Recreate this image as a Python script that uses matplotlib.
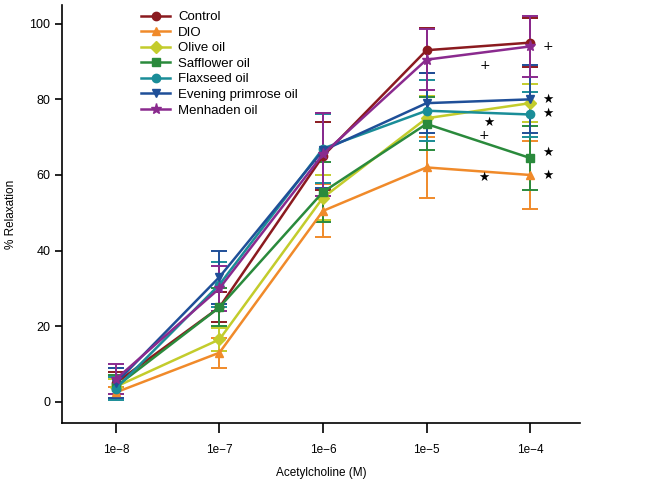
import matplotlib.pyplot as plt
from matplotlib.lines import Line2D

plt.rcParams['font.family'] = ['Liberation Sans', 'DejaVu Sans']

conc = [1e-8, 1e-7, 1e-6, 1e-5, 1e-4]
tick_labels = ["1e\u22128", "1e\u22127", "1e\u22126", "1e\u22125", "1e\u22124"]

names = ["Control", "DIO", "Olive oil", "Safflower oil", "Flaxseed oil",
         "Evening primrose oil", "Menhaden oil"]
colors = ["#8b1a1f", "#f08a2a", "#c3cc2c", "#2a8a3c", "#1a8d98", "#1f4f98", "#8a2a8e"]
markers = ["o", "^", "D", "s", "o", "v", "*"]

control = [5, 25, 65, 93, 95]
dio = [2.5, 13, 50.5, 62, 60]
olive = [4, 16.5, 54, 75, 79]
safflower = [4, 25, 55.5, 73.5, 64.5]
flaxseed = [3.5, 31, 67, 77, 76]
primrose = [5, 33, 66.5, 79, 80]
menhaden = [6, 30, 65.5, 90.5, 94]

control_err = [3, 4, 9, 6, 6.5]
dio_err = [1.5, 4, 7, 8, 9]
olive_err = [2, 3, 6, 6, 5]
safflower_err = [3, 5, 8, 7, 8.5]
flaxseed_err = [3, 6, 9, 8, 6]
primrose_err = [4, 7, 10, 8, 9]
menhaden_err = [4, 6, 11, 8, 8]

series = [control, dio, olive, safflower, flaxseed, primrose, menhaden]
errors = [control_err, dio_err, olive_err, safflower_err, flaxseed_err,
          primrose_err, menhaden_err]

# significance marks: (concentration index, y value, symbol)
sig_idx = [3, 3, 3, 3, 4, 4, 4, 4, 4]
sig_y = [88.9, 73.8, 70.4, 59.3, 93.9, 79.9, 76.2, 66, 59.8]
sig_sym = ["+", "\u2605", "+", "\u2605", "+", "\u2605", "\u2605", "\u2605", "\u2605"]
sig_dx = [42, 45, 41, 41, 13, 13, 13, 13, 13]

fig = plt.figure(figsize=(6.48, 4.84), dpi=100)
ax = fig.add_axes([0.0957, 0.126, 0.799, 0.864])

for vals, errs, c, m in zip(series, errors, colors, markers):
    ms = 8 if m == "*" else 6
    ax.errorbar(conc, vals, yerr=errs, color=c, marker=m, markersize=ms,
                linewidth=1.8, elinewidth=1.4, capsize=5.5, capthick=1.4)

for i, yv, s, dx in zip(sig_idx, sig_y, sig_sym, sig_dx):
    ax.annotate(s, xy=(conc[i], yv), xytext=(dx, 0), textcoords="offset points",
                ha="center", va="center", fontsize=9,
                family="DejaVu Sans", color="black")

ax.set_xscale("log")
ax.set_xlim(10 ** -8.52, 10 ** -3.52)
ax.set_ylim(-5.6, 105)
ax.set_xticks(conc)
ax.set_xticklabels(tick_labels)
ax.minorticks_off()
ax.set_yticks([0, 20, 40, 60, 80, 100])

for sp in ["top", "right"]:
    ax.spines[sp].set_visible(False)
ax.spines["left"].set_linewidth(1.2)
ax.spines["bottom"].set_linewidth(1.2)
ax.tick_params(axis="x", length=7, width=1.2, pad=8, labelsize=8.5)
ax.tick_params(axis="y", length=5, width=1.2, labelsize=9)

ax.set_xlabel("Acetylcholine (M)", fontsize=8.5, labelpad=8)
ax.set_ylabel("% Relaxation", fontsize=8.5, labelpad=9)

handles = [Line2D([], [], color=c, linewidth=1.8, marker=m,
                  markersize=8 if m == "*" else 6)
           for c, m in zip(colors, markers)]
ax.legend(handles, names, loc="upper left", bbox_to_anchor=(0.21, 0.988),
          bbox_transform=fig.transFigure, frameon=False, fontsize=9.5,
          handlelength=2.2, handletextpad=0.6, labelspacing=0.25,
          borderaxespad=0)

fig.savefig("out.png", dpi=100)
